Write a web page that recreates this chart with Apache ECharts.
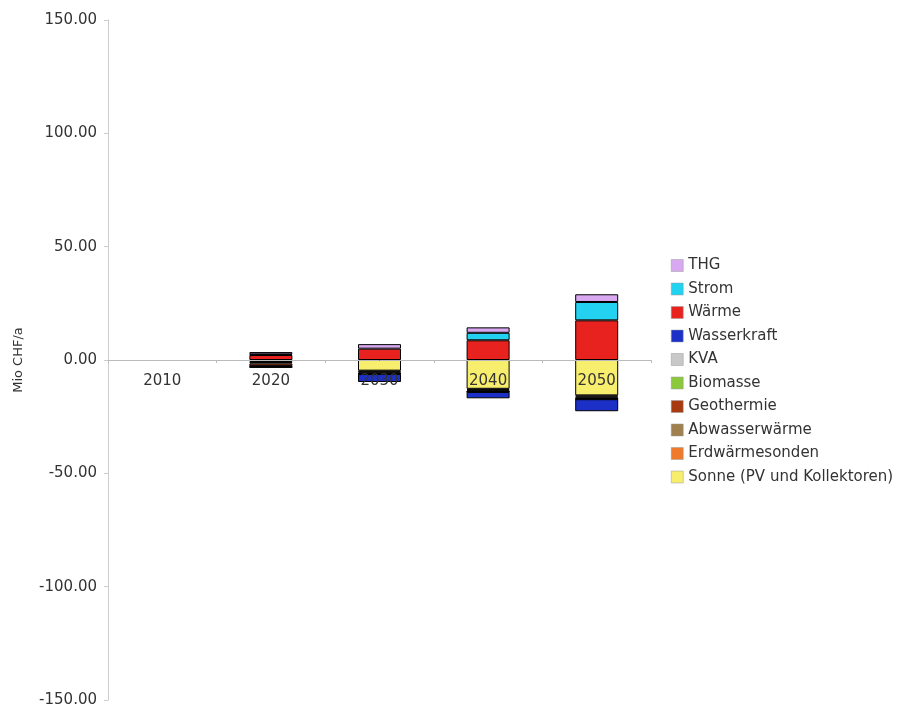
<!DOCTYPE html>
<html><head><meta charset="utf-8">
<script src="https://cdn.jsdelivr.net/npm/echarts@6/dist/echarts.min.js"></script>
<style>html,body{margin:0;padding:0;background:#fff}#c{width:902px;height:711px}</style>
</head><body><div id="c"></div>
<script>
const categories = ['2010','2020','2030','2040','2050'];
const yTicks = [-150,-100,-50,0,50,100,150];
const sonne       = [0, -0.3, -4.7, -12.7, -15.6];
const erdwaerme   = [0, -0.6, -0.4, -0.4, -0.5];
const abwasser    = [0, -0.6, -0.4, -0.4, -0.5];
const geothermie  = [0, -1.2, -0.5, -0.4, -0.5];
const biomasse    = [0, -0.2, -0.1, -0.1, -0.1];
const kva         = [0, -0.2, -0.1, -0.1, -0.1];
const wasserkraft = [0, -0.2, -3.5, -2.8, -5.3];
const waerme      = [0, 2.2, 5.0, 8.7, 17.5];
const strom       = [0, 0.3, 0.0, 3.3, 8.1];
const thg         = [0, 1.0, 2.0, 2.4, 3.4];

const seriesDefs = [
  ['Sonne (PV und Kollektoren)', sonne, '#F8EE6E'],
  ['Erdwärmesonden', erdwaerme, '#F07A2C'],
  ['Abwasserwärme', abwasser, '#A0804E'],
  ['Geothermie', geothermie, '#A83A10'],
  ['Biomasse', biomasse, '#8CC83C'],
  ['KVA', kva, '#C8C8C8'],
  ['Wasserkraft', wasserkraft, '#1C30C8'],
  ['Wärme', waerme, '#E8231F'],
  ['Strom', strom, '#22D2F0'],
  ['THG', thg, '#D8A8F0']
];
const legendOrder = ['THG','Strom','Wärme','Wasserkraft','KVA','Biomasse','Geothermie','Abwasserwärme','Erdwärmesonden','Sonne (PV und Kollektoren)'];

const gridTop = 20, gridBottom = 11, H = 711;
const plotH = H - gridTop - gridBottom;

const chart = echarts.init(document.getElementById('c'));
chart.setOption({
  animation: false,
  textStyle: {fontFamily: 'DejaVu Sans'},
  grid: {left: 108, right: 251, top: gridTop, bottom: gridBottom, outerBoundsMode: 'none', containLabel: false},
  legend: {
    data: legendOrder, orient: 'vertical', left: 666, top: 253,
    itemWidth: 12, itemHeight: 12, itemGap: 8.5,
    textStyle: {fontSize: 15, color: '#333'},
    icon: 'rect',
    itemStyle: {borderColor: '#999', borderWidth: 0.5}
  },
  xAxis: {
    type: 'category', data: categories, z: 10,
    offset: -plotH / 2,
    axisLine: {onZero: false, lineStyle: {color: '#bbb', width: 1}},
    axisTick: {show: true, length: 3, lineStyle: {color: '#bbb'}},
    axisLabel: {fontSize: 15, color: '#333', margin: 14}
  },
  yAxis: {
    type: 'value', min: yTicks[0], max: yTicks[yTicks.length-1], interval: 50,
    name: 'Mio CHF/a', nameLocation: 'middle', nameGap: 83,
    nameTextStyle: {fontSize: 13, color: '#333'},
    axisLine: {show: true, lineStyle: {color: '#ccc'}},
    axisTick: {show: true, length: 4, lineStyle: {color: '#ccc'}},
    splitLine: {show: false},
    axisLabel: {fontSize: 15, color: '#333', margin: 11, formatter: v => v.toFixed(2)}
  },
  series: seriesDefs.map(([name, data, color]) => ({
    name, type: 'bar', stack: 'a', data: data.map(v => v === 0 ? null : v), barWidth: 43,
    itemStyle: {color, borderColor: '#000', borderWidth: 1}
  }))
});
</script></body></html>
